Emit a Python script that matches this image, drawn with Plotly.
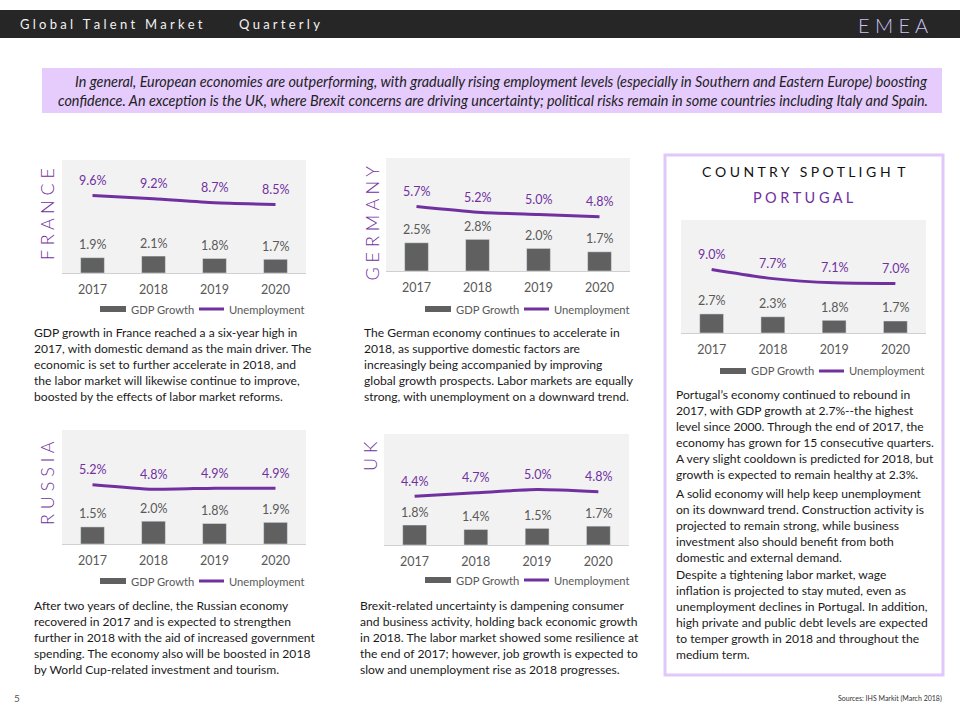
import plotly.graph_objects as go

W, H = 960, 720

# ---------------- data ----------------
years = ["2017", "2018", "2019", "2020"]

france_gdp = [1.9, 2.1, 1.8, 1.7]
france_unemp = [9.6, 9.2, 8.7, 8.5]
germany_gdp = [2.5, 2.8, 2.0, 1.7]
germany_unemp = [5.7, 5.2, 5.0, 4.8]
portugal_gdp = [2.7, 2.3, 1.8, 1.7]
portugal_unemp = [9.0, 7.7, 7.1, 7.0]
russia_gdp = [1.5, 2.0, 1.8, 1.9]
russia_unemp = [5.2, 4.8, 4.9, 4.9]
uk_gdp = [1.8, 1.4, 1.5, 1.7]
uk_unemp = [4.4, 4.7, 5.0, 4.8]

series_names = ["GDP Growth", "Unemployment"]

header_left = ["Global Talent Market", "Quarterly"]
header_right = "E M E A"

banner_lines = [
    "In general, European economies are outperforming, with gradually rising employment levels (especially in Southern and Eastern Europe) boosting",
    "confidence. An exception is the UK, where Brexit concerns are driving uncertainty; political risks remain in some countries including Italy and Spain.",
]

france_text = [
    "GDP growth in France reached a a six-year high in",
    "2017, with domestic demand as the main driver. The",
    "economic is set to further accelerate in 2018, and",
    "the labor market will likewise continue to improve,",
    "boosted by the effects of labor market reforms.",
]
germany_text = [
    "The German economy continues to accelerate in",
    "2018, as supportive domestic factors are",
    "increasingly being accompanied by improving",
    "global growth prospects. Labor markets are equally",
    "strong, with unemployment on a downward trend.",
]
russia_text = [
    "After two years of decline, the Russian economy",
    "recovered in 2017 and is expected to strengthen",
    "further in 2018 with the aid of increased government",
    "spending. The economy also will be boosted in 2018",
    "by World Cup-related investment and tourism.",
]
uk_text = [
    "Brexit-related uncertainty is dampening consumer",
    "and business activity, holding back economic growth",
    "in 2018. The labor market showed some resilience at",
    "the end of 2017; however, job growth is expected to",
    "slow and unemployment rise as 2018 progresses.",
]
portugal_paras = [
    [
        "Portugal\u2019s economy continued to rebound in",
        "2017, with GDP growth at 2.7%--the highest",
        "level since 2000. Through the end of 2017, the",
        "economy has grown for 15 consecutive quarters.",
        "A very slight cooldown is predicted for 2018, but",
        "growth is expected to remain healthy at 2.3%.",
    ],
    [
        "A solid economy will help keep unemployment",
        "on its downward trend. Construction activity is",
        "projected to remain strong, while business",
        "investment also should benefit from both",
        "domestic and external demand.",
    ],
    [
        "Despite a tightening labor market, wage",
        "inflation is projected to stay muted, even as",
        "unemployment declines in Portugal. In addition,",
        "high private and public debt levels are expected",
        "to temper growth in 2018 and throughout the",
        "medium term.",
    ],
]
spotlight_title = "C O U N T R Y   S P O T L I G H  T"
spotlight_country = "P O R T U G A L"
source_text = "Sources: IHS Markit (March 2018)"
page_number = "5"

# ---------------- styling ----------------
FONT = "Lato"
PURPLE = "#7030a0"
BAR = "#606060"
GRAY_TXT = "#595959"
PLOT_BG = "#f2f2f2"
LAVENDER = "#e5ccfd"


def px(x):
    return x / W


def py(y):
    return 1 - y / H


charts = [
    dict(label="F R A N C E", gdp=france_gdp, un=france_unemp, box=(62, 306, 160, 273), ymax=14,
         lab=(47, 166), leg=(100, 309), text=france_text, tpos=(32, 332)),
    dict(label="G E R M A N Y", gdp=germany_gdp, un=germany_unemp, box=(386, 630, 158, 271), ymax=10,
         lab=(372, 164), leg=(425, 309), text=germany_text, tpos=(362, 332)),
    dict(label=None, gdp=portugal_gdp, un=portugal_unemp, box=(681, 926, 220, 333), ymax=16,
         lab=None, leg=(720, 371), text=None, tpos=None),
    dict(label="R U S S I A", gdp=russia_gdp, un=russia_unemp, box=(62, 306, 430, 544), ymax=10,
         lab=(47, 439), leg=(100, 581), text=russia_text, tpos=(32, 605)),
    dict(label="U K", gdp=uk_gdp, un=uk_unemp, box=(384, 629, 434, 545), ymax=10,
         lab=(370, 439), leg=(425, 580), text=uk_text, tpos=(358, 605)),
]

fig = go.Figure()
annotations = []
shapes = []
layout = {}

for i, c in enumerate(charts, start=1):
    sfx = "" if i == 1 else str(i)
    xa, ya = "x" + sfx, "y" + sfx
    x0, x1, yt, yb = c["box"]
    fig.add_trace(go.Bar(x=years, y=c["gdp"], name=series_names[0], marker_color=BAR,
                         width=0.39, xaxis=xa, yaxis=ya, showlegend=False, hoverinfo="skip"))
    fig.add_trace(go.Scatter(x=years, y=c["un"], name=series_names[1], mode="lines",
                             line=dict(color=PURPLE, width=3, shape="spline", smoothing=0.6),
                             xaxis=xa, yaxis=ya, showlegend=False, hoverinfo="skip"))
    layout["xaxis" + sfx] = dict(domain=[px(x0), px(x1)], anchor=ya, type="category",
                                 categoryorder="array", categoryarray=years,
                                 range=[-0.5, 3.5], showgrid=False, zeroline=False,
                                 showline=True, linecolor="#d0d0d0", linewidth=1,
                                 ticks="", ticklabelstandoff=5,
                                 tickfont=dict(family=FONT, size=12.5, color=GRAY_TXT),
                                 fixedrange=True)
    layout["yaxis" + sfx] = dict(domain=[py(yb), py(yt)], anchor=xa, range=[0, c["ymax"]],
                                 visible=False, fixedrange=True)
    # plot area background
    shapes.append(dict(type="rect", xref="paper", yref="paper", x0=px(x0), x1=px(x1),
                       y0=py(yb), y1=py(yt), fillcolor=PLOT_BG, line=dict(width=0), layer="below"))
    # data labels (x given as category index on the category axis)
    for k, (g, u) in enumerate(zip(c["gdp"], c["un"])):
        annotations.append(dict(x=k, y=g, xref=xa, yref=ya, text=f"{g:.1f}%", showarrow=False,
                                yshift=13, yanchor="middle",
                                font=dict(family=FONT, size=12.5, color=GRAY_TXT)))
        annotations.append(dict(x=k, y=u, xref=xa, yref=ya, text=f"{u:.1f}%", showarrow=False,
                                yshift=15, yanchor="middle",
                                font=dict(family=FONT, size=12.5, color=PURPLE)))
    # legend
    lx, ly = c["leg"]
    shapes.append(dict(type="rect", xref="paper", yref="paper", x0=px(lx), x1=px(lx + 26),
                       y0=py(ly + 3), y1=py(ly - 3), fillcolor=BAR, line=dict(width=0)))
    shapes.append(dict(type="line", xref="paper", yref="paper", x0=px(lx + 99), x1=px(lx + 124),
                       y0=py(ly), y1=py(ly), line=dict(color=PURPLE, width=3)))
    annotations.append(dict(x=px(lx + 29), y=py(ly), xref="paper", yref="paper", text=series_names[0],
                            showarrow=False, xanchor="left", yanchor="middle",
                            font=dict(family=FONT, size=11.2, color=GRAY_TXT)))
    annotations.append(dict(x=px(lx + 127), y=py(ly), xref="paper", yref="paper", text=series_names[1],
                            showarrow=False, xanchor="left", yanchor="middle",
                            font=dict(family=FONT, size=11.2, color=GRAY_TXT)))
    # vertical country label
    if c["label"]:
        lbx, lby = c["lab"]
        annotations.append(dict(x=px(lbx), y=py(lby), xref="paper", yref="paper", text=c["label"],
                                textangle=-90, showarrow=False, xanchor="center", yanchor="top",
                                font=dict(family=FONT, size=18, color=PURPLE, weight=300)))
    # paragraph
    if c["text"]:
        tx, ty = c["tpos"]
        for k, line in enumerate(c["text"]):
            annotations.append(dict(x=px(tx), y=py(ty + 16 * k), xref="paper", yref="paper",
                                    text=line, showarrow=False, xanchor="left", yanchor="middle",
                                    font=dict(family=FONT, size=12.1, color="#1a1a1a")))

# Portugal paragraphs
para_starts = [394, 493, 574]
for start, para in zip(para_starts, portugal_paras):
    for k, line in enumerate(para):
        annotations.append(dict(x=px(674), y=py(start + 16 * k), xref="paper", yref="paper",
                                text=line, showarrow=False, xanchor="left", yanchor="middle",
                                font=dict(family=FONT, size=12.1, color="#1a1a1a")))

# header bar
shapes.append(dict(type="rect", xref="paper", yref="paper", x0=0, x1=1, y0=py(38), y1=py(10),
                   fillcolor="#262626", line=dict(width=0), layer="below"))


def spaced(s):
    return "\u2005".join(s)


annotations.append(dict(x=px(18), y=py(24), xref="paper", yref="paper", text=spaced(header_left[0]),
                        showarrow=False, xanchor="left", yanchor="middle",
                        font=dict(family=FONT, size=13, color="#f2f2f2")))
annotations.append(dict(x=px(237), y=py(24), xref="paper", yref="paper", text=spaced(header_left[1]),
                        showarrow=False, xanchor="left", yanchor="middle",
                        font=dict(family=FONT, size=13, color="#f2f2f2")))
annotations.append(dict(x=px(930), y=py(25), xref="paper", yref="paper", text=header_right,
                        showarrow=False, xanchor="right", yanchor="middle",
                        font=dict(family=FONT, size=20, color="#c9c3f3", weight=300)))

# banner
shapes.append(dict(type="rect", xref="paper", yref="paper", x0=px(42), x1=px(942), y0=py(113), y1=py(68),
                   fillcolor=LAVENDER, line=dict(width=0), layer="below"))
for k, line in enumerate(banner_lines):
    annotations.append(dict(x=px(930), y=py(81 + 20 * k), xref="paper", yref="paper",
                            text=f"<i>{line}</i>", showarrow=False, xanchor="right", yanchor="middle",
                            font=dict(family=FONT, size=14.4, color="#222222")))

# Portugal spotlight box
shapes.append(dict(type="rect", xref="paper", yref="paper", x0=px(665), x1=px(943), y0=py(675), y1=py(155),
                   fillcolor="rgba(0,0,0,0)", line=dict(color="#e0c8fa", width=3), layer="below"))
annotations.append(dict(x=px(804), y=py(171), xref="paper", yref="paper", text=spotlight_title,
                        showarrow=False, xanchor="center", yanchor="middle",
                        font=dict(family=FONT, size=14, color="#111111")))
annotations.append(dict(x=px(803), y=py(197), xref="paper", yref="paper", text=spotlight_country,
                        showarrow=False, xanchor="center", yanchor="middle",
                        font=dict(family=FONT, size=14.5, color=PURPLE)))

# footer
annotations.append(dict(x=px(12), y=py(698), xref="paper", yref="paper", text=page_number,
                        showarrow=False, xanchor="left", yanchor="middle",
                        font=dict(family=FONT, size=10, color="#595959")))
annotations.append(dict(x=px(944), y=py(698), xref="paper", yref="paper", text=source_text,
                        showarrow=False, xanchor="right", yanchor="middle",
                        font=dict(family=FONT, size=7, color="#333333")))

fig.update_layout(
    width=W, height=H, margin=dict(l=0, r=0, t=0, b=0),
    paper_bgcolor="white", plot_bgcolor="rgba(0,0,0,0)",
    showlegend=False, barmode="overlay",
    annotations=annotations, shapes=shapes, **layout,
)

fig.write_html("out.html", config={"displayModeBar": False},
               post_script="document.body.style.margin='0';document.body.style.overflow='hidden';")
